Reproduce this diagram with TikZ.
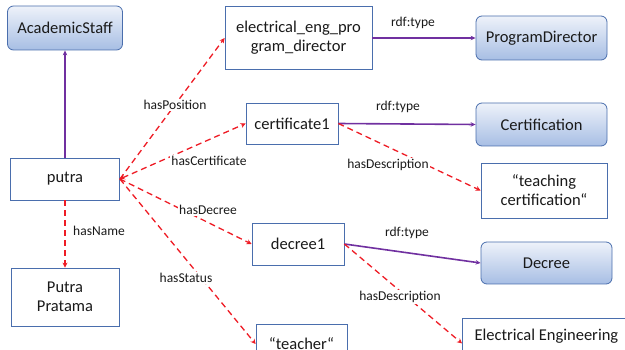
\documentclass[tikz,border=0pt]{standalone}
\usepackage{fontspec}
\setmainfont{Carlito}
\usetikzlibrary{arrows.meta}
\definecolor{boxline}{HTML}{4A6EAD}
\definecolor{classtop}{HTML}{EEF2FA}
\definecolor{classbot}{HTML}{A7BEE4}
\definecolor{typeline}{HTML}{7030A0}
\definecolor{propline}{HTML}{EE1C25}
\definecolor{txt}{HTML}{1A1A1A}
\tikzset{
  x=1pt, y=-1pt,
  every node/.style={text=txt, font=\fontsize{16.5}{19}\selectfont},
  inst/.style={draw=boxline, line width=0.8pt, fill=white, align=center, inner sep=3pt},
  cls/.style={draw=boxline, line width=0.8pt, rounded corners=6pt,
    top color=classtop, bottom color=classbot, inner sep=3pt},
  typearrow/.style={draw=typeline, line width=1.6pt, -{Stealth[length=5pt,width=4.5pt]}},
  proparrow/.style={draw=propline, line width=1.3pt, dash pattern=on 6pt off 4pt,
    -{Stealth[length=5pt,width=5pt]}},
  lbl/.style={font=\fontsize{13.5}{16}\selectfont, inner sep=1.5pt},
  cut/.style={lbl, fill=white},
}
\begin{document}
\begin{tikzpicture}
\path[use as bounding box, clip] (0,0) rectangle (625,350);

% classes
\node[cls, minimum width=115, minimum height=44] (staff) at (65,28) {AcademicStaff};
\node[cls, minimum width=131, minimum height=44] (pd) at (541.5,38) {ProgramDirector};
\node[cls, minimum width=131, minimum height=43] (certn) at (541.5,124.5) {Certification};
\node[cls, minimum width=131, minimum height=42] (decree) at (546.5,263) {Decree};

% instances and literals
\node[inst, minimum width=109, minimum height=42] (putra) at (65,179) {putra};
\node[inst, minimum width=108, minimum height=58] (name) at (65,297) {Putra\\Pratama};
\node[inst, minimum width=147, minimum height=63] (epd) at (298.5,38) {electrical\_eng\_pro\\gram\_director};
\node[inst, minimum width=92, minimum height=41] (cert1) at (292,123.5) {certificate1};
\node[inst, minimum width=126, minimum height=55] (tc) at (544,190.5) {“teaching\\certification“};
\node[inst, minimum width=92, minimum height=42] (dec1) at (298,244) {decree1};
\node[inst, minimum width=91, minimum height=40] (teacher) at (301.5,344) {“teacher“};
\node[inst, minimum width=168, inner sep=4pt, text height=18pt, text depth=24pt,
      anchor=north west] (ee) at (462,318) {Electrical Engineering};

% rdf:type links
\draw[typearrow] (putra.north) -- (staff.south);
\draw[typearrow] (epd.east) -- (pd.west);
\draw[typearrow] (cert1.east) -- (certn.west);
\draw[typearrow] (dec1.east) -- (decree.west);

% property links
\draw[proparrow] (putra.south) -- (name.north);
\draw[proparrow] (putra.east) -- (epd.west);
\draw[proparrow, {Stealth[length=5pt,width=5pt]}-{Stealth[length=5pt,width=5pt]}] (putra.east) -- (cert1.west);
\draw[proparrow] (putra.east) -- (dec1.west);
\draw[proparrow] (putra.east) -- (teacher.west);
\draw[proparrow] (cert1.east) -- (tc.west);
\draw[proparrow] (dec1.east) -- (ee.west);

% link labels
\node[lbl] (t1) at (413,23) {rdf:type};
\node[lbl] (t2) at (398,107) {rdf:type};
\node[lbl] (t3) at (407,233) {rdf:type};
\node[lbl] (ln) at (99,231) {hasName};
\node[cut] (lp) at (175,105) {hasPosition};
\node[cut] (lc) at (209,161) {hasCertificate};
\node[cut] (ld) at (208,210) {hasDecree};
\node[cut] (ls) at (186,278) {hasStatus};
\node[cut] (ld1) at (388,165) {hasDescription};
\node[cut] (ld2) at (400,297) {hasDescription};
\end{tikzpicture}
\end{document}
